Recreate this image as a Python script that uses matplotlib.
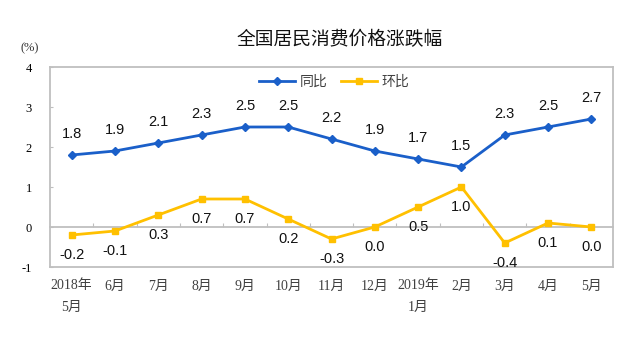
import matplotlib
matplotlib.use("Agg")
import matplotlib.pyplot as plt

plt.rcParams['font.family'] = ['Noto Sans CJK SC', 'DejaVu Sans']

# data
months = ['2018年\n5月', '6月', '7月', '8月', '9月', '10月', '11月', '12月',
          '2019年\n1月', '2月', '3月', '4月', '5月']
yoy = [1.8, 1.9, 2.1, 2.3, 2.5, 2.5, 2.2, 1.9, 1.7, 1.5, 2.3, 2.5, 2.7]
mom = [-0.2, -0.1, 0.3, 0.7, 0.7, 0.2, -0.3, 0.0, 0.5, 1.0, -0.4, 0.1, 0.0]
yticks = [-1, 0, 1, 2, 3, 4]

blue = '#1A5FC9'
yellow = '#FFC000'
frame = '#BFBFBF'
serif = ['Liberation Serif', 'Noto Sans CJK SC']
num_font = ['Liberation Sans', 'DejaVu Sans']

fig = plt.figure(figsize=(6.4, 3.6), dpi=100)
ax = fig.add_axes([50 / 640, 1 - 267 / 360, 563 / 640, 200 / 360])

x = list(range(len(months)))
ax.plot(x, yoy, color=blue, lw=2.0, marker='D', ms=4.5, label='同比', zorder=3)
ax.plot(x, mom, color=yellow, lw=2.0, marker='s', ms=4, label='环比', zorder=3)

for xi, v in zip(x, yoy):
    ax.annotate(f'{v:.1f}', (xi, v), xytext=(0, 15), textcoords='offset points',
                ha='center', va='center', fontsize=10.5, family=num_font, color='#111111')
for xi, v in zip(x, mom):
    ax.annotate(f'{v:.1f}', (xi, v), xytext=(0, -14.5), textcoords='offset points',
                ha='center', va='center', fontsize=10.5, family=num_font, color='#111111')

ax.set_xlim(-0.5, len(months) - 0.5)
ax.set_ylim(yticks[0], yticks[-1])
ax.set_yticks(yticks)
ax.set_yticklabels([str(t) for t in yticks], family=serif, fontsize=9)
ax.set_xticks(x)
ax.set_xticklabels(months, family=serif, fontsize=10, color='#404040', linespacing=1.85)
ax.tick_params(axis='x', length=0, pad=9)
ax.tick_params(axis='y', direction='in', length=2, color=frame, pad=13)
for sp in ax.spines.values():
    sp.set_color(frame)
    sp.set_linewidth(1.3)

# zero line with small category ticks
zero = ax.secondary_xaxis((0 - yticks[0]) / (yticks[-1] - yticks[0]))
zero.set_xticks([i + 0.5 for i in x[:-1]])
zero.set_xticklabels([])
zero.tick_params(direction='in', length=3, color=frame)
zero.spines['bottom'].set_color(frame)
zero.spines['bottom'].set_linewidth(1.3)

leg = ax.legend(loc='upper center', bbox_to_anchor=(0.505, 1.025), ncol=2, frameon=False,
                fontsize=10, handlelength=2.6, columnspacing=1.0, handletextpad=0.3)
for t in leg.get_texts():
    t.set_color('#404040')

fig.text(340 / 640, 1 - 40 / 360, '全国居民消费价格涨跌幅', ha='center', va='center',
         fontsize=13.5, color='#111111')
fig.text(30 / 640, 1 - 48 / 360, '(%)', ha='center', va='center', fontsize=9,
         family=serif, color='#333333')

fig.savefig('out.png', dpi=100, facecolor='white')
